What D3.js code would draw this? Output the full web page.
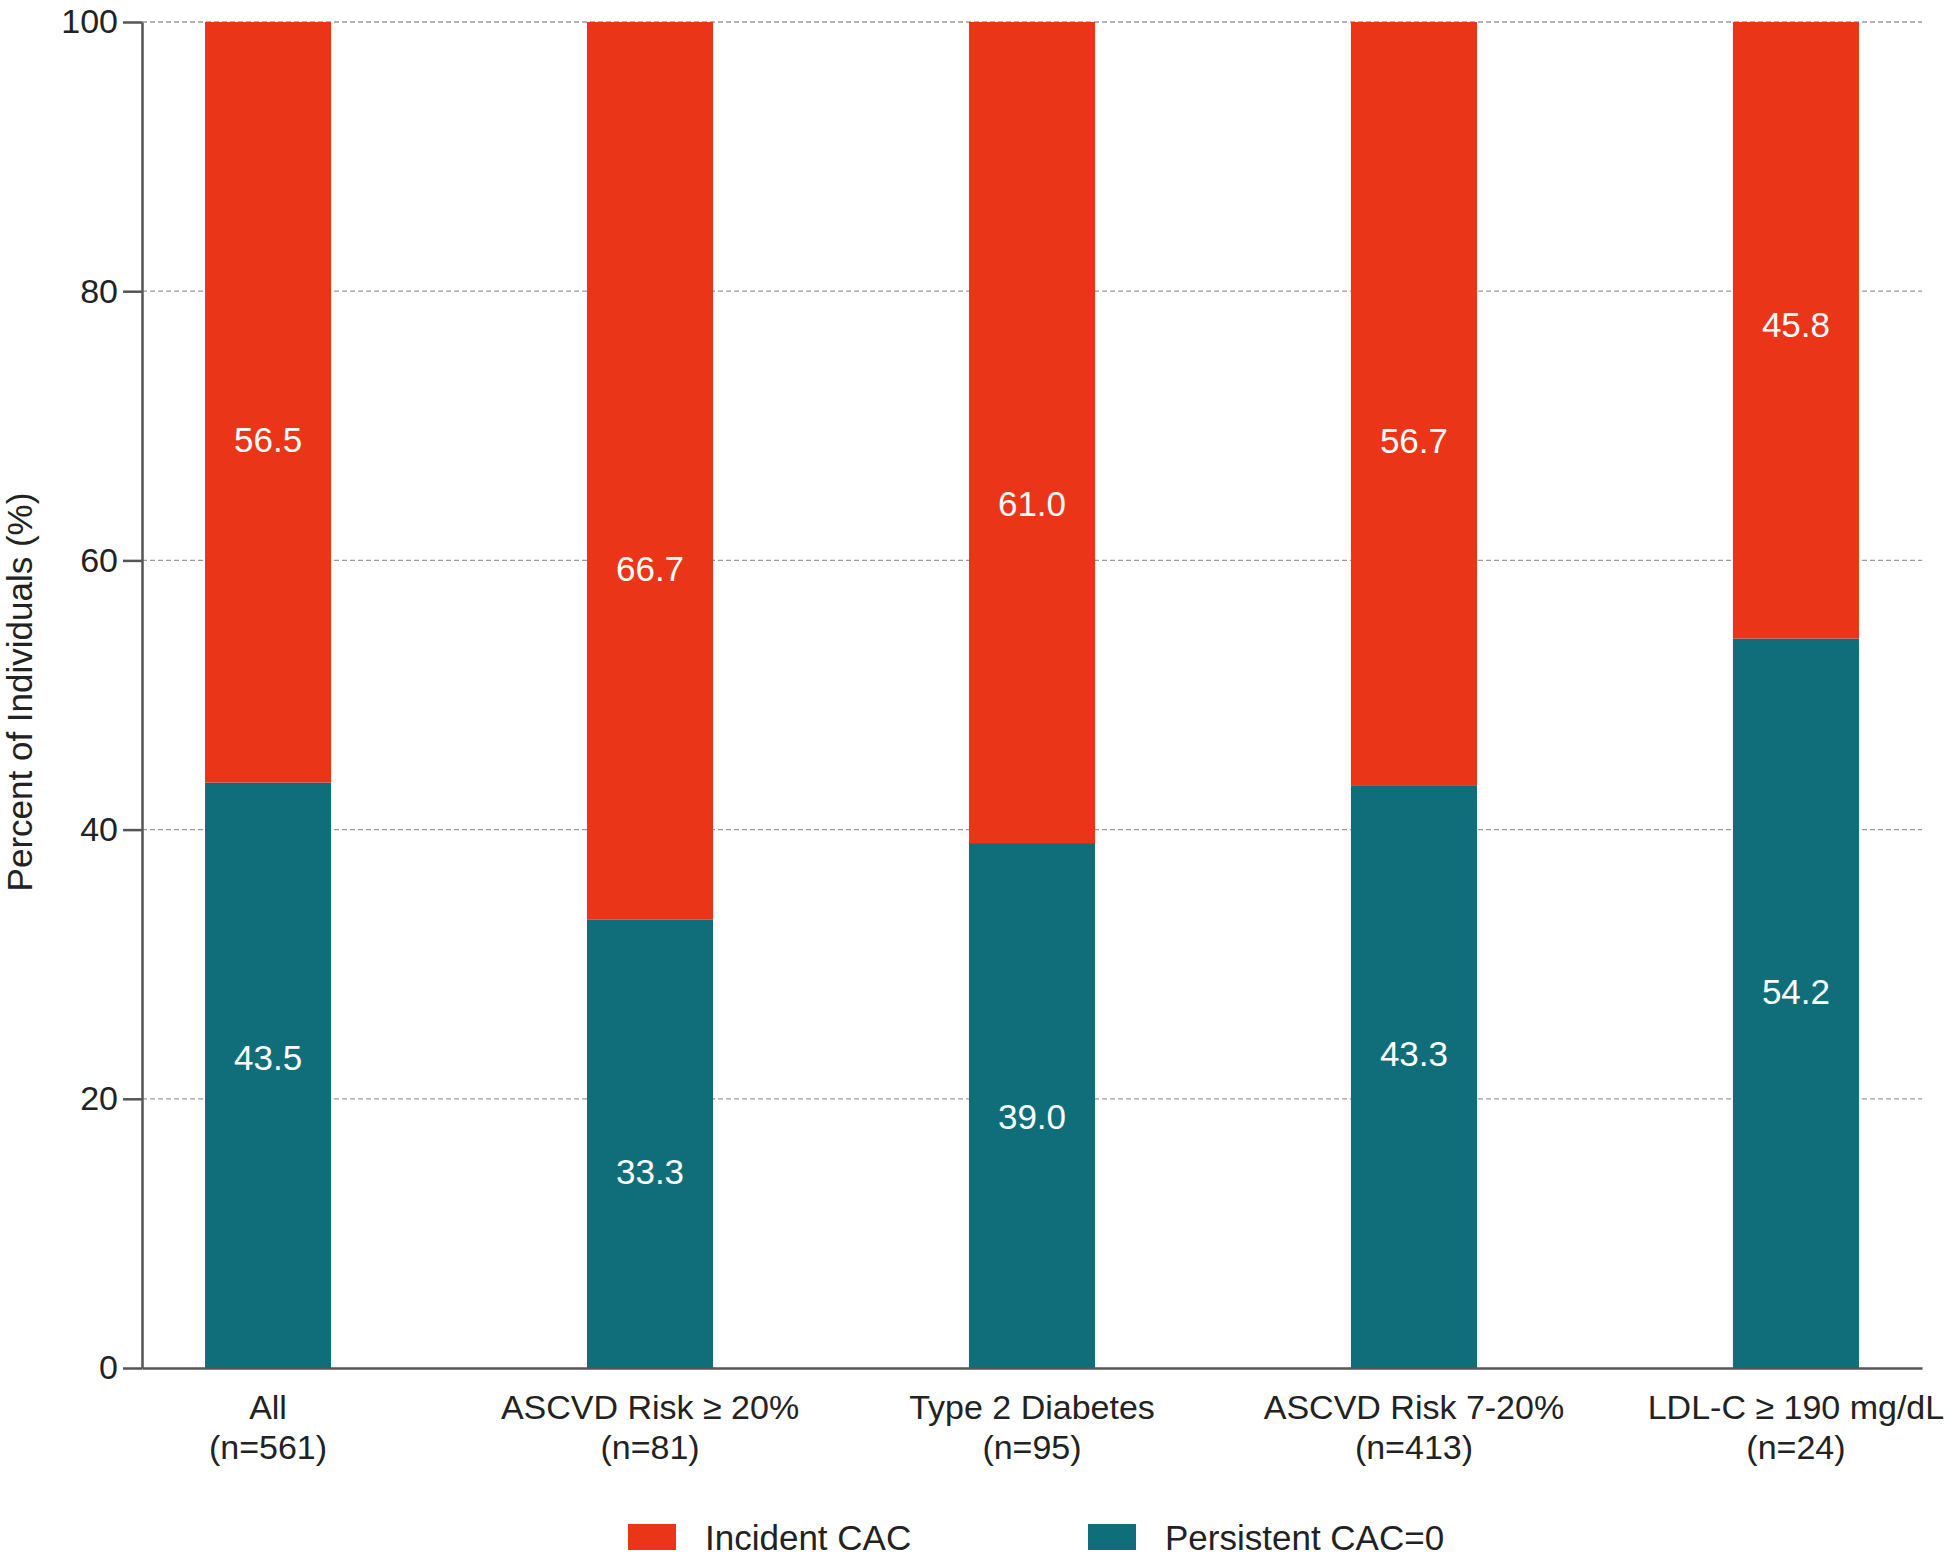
<!DOCTYPE html>
<html>
<head>
<meta charset="utf-8">
<script src="https://cdn.jsdelivr.net/npm/d3@7"></script>
<style>
  html, body { margin: 0; padding: 0; background: #ffffff; }
  svg { display: block; font-family: "Liberation Sans", Arial, Helvetica, sans-serif; }
</style>
</head>
<body>
<svg id="chart" width="1950" height="1557"></svg>
<script>
// ---- data ----
const categories = ["All", "ASCVD Risk \u2265 20%", "Type 2 Diabetes", "ASCVD Risk 7-20%", "LDL-C \u2265 190 mg/dL"];
const sampleSizes = ["(n=561)", "(n=81)", "(n=95)", "(n=413)", "(n=24)"];
const persistent = [43.5, 33.3, 39.0, 43.3, 54.2];   // Persistent CAC=0
const incident   = [56.5, 66.7, 61.0, 56.7, 45.8];   // Incident CAC
// value-label anchors (in % units), as placed in the original figure
const persistentLabelAt = [23.1, 14.6, 18.7, 23.4, 28.0];
const incidentLabelAt   = [69.0, 59.4, 64.2, 68.9, 77.5];
const yTicks = [0, 20, 40, 60, 80, 100];
const seriesNames = ["Incident CAC", "Persistent CAC=0"];

// ---- styles ----
const RED = "#eb3519";
const TEAL = "#106e7a";
const AXIS = "#555555";
const FONT = 35;

const svg = d3.select("#chart");

const x = d3.scaleBand()
  .domain(categories)
  .range([142, 1922])
  .paddingInner(0.67)
  .paddingOuter(0.165);

const y = d3.scaleLinear().domain([0, 100]).range([1368, 22]);

// gridlines
svg.append("g")
  .selectAll("line")
  .data(yTicks.filter(d => d > 0))
  .join("line")
  .attr("x1", 142).attr("x2", 1922)
  .attr("y1", d => y(d)).attr("y2", d => y(d))
  .attr("stroke", "#9a9a9a")
  .attr("stroke-width", 1.3)
  .attr("stroke-dasharray", "5,3");

// bars
const rows = categories.map((c, i) => ({
  cat: c, p: persistent[i], inc: incident[i],
  pl: persistentLabelAt[i], il: incidentLabelAt[i]
}));

const g = svg.append("g");
g.selectAll("rect.persist")
  .data(rows).join("rect")
  .attr("class", "persist")
  .attr("x", d => x(d.cat))
  .attr("width", x.bandwidth())
  .attr("y", d => y(d.p))
  .attr("height", d => y(0) - y(d.p))
  .attr("fill", TEAL);

g.selectAll("rect.incid")
  .data(rows).join("rect")
  .attr("class", "incid")
  .attr("x", d => x(d.cat))
  .attr("width", x.bandwidth())
  .attr("y", d => y(d.p + d.inc))
  .attr("height", d => y(d.p) - y(d.p + d.inc))
  .attr("fill", RED);

// value labels
g.selectAll("text.pl")
  .data(rows).join("text")
  .attr("class", "pl")
  .attr("x", d => x(d.cat) + x.bandwidth() / 2)
  .attr("y", d => y(d.pl))
  .attr("dy", "0.36em")
  .attr("text-anchor", "middle")
  .attr("fill", "#ffffff")
  .attr("font-size", FONT)
  .text(d => d.p.toFixed(1));

g.selectAll("text.il")
  .data(rows).join("text")
  .attr("class", "il")
  .attr("x", d => x(d.cat) + x.bandwidth() / 2)
  .attr("y", d => y(d.il))
  .attr("dy", "0.36em")
  .attr("text-anchor", "middle")
  .attr("fill", "#ffffff")
  .attr("font-size", FONT)
  .text(d => d.inc.toFixed(1));

// y axis
const yAxis = svg.append("g")
  .attr("transform", "translate(142,0)")
  .call(d3.axisLeft(y).tickValues(yTicks).tickSize(19).tickPadding(5).tickSizeOuter(0));
yAxis.select(".domain").attr("stroke", AXIS).attr("stroke-width", 2.5);
yAxis.selectAll(".tick line").attr("stroke", AXIS).attr("stroke-width", 2.5);
yAxis.selectAll(".tick text")
  .attr("fill", "#222")
  .attr("font-size", 34)
  .attr("font-family", "Liberation Sans, Arial, sans-serif");

// x axis
const xAxis = svg.append("g")
  .attr("transform", `translate(0,${y(0)})`)
  .call(d3.axisBottom(x).tickSize(0).tickSizeOuter(0).tickFormat(""));
xAxis.select(".domain").attr("stroke", AXIS).attr("stroke-width", 2.5);

// category labels (two lines)
const cl = svg.append("g").selectAll("text")
  .data(categories).join("text")
  .attr("text-anchor", "middle")
  .attr("fill", "#222")
  .attr("font-size", 34);
cl.append("tspan")
  .attr("x", d => x(d) + x.bandwidth() / 2)
  .attr("y", 1419)
  .text(d => d);
cl.append("tspan")
  .attr("x", d => x(d) + x.bandwidth() / 2)
  .attr("y", 1459)
  .text((d, i) => sampleSizes[i]);

// y title
svg.append("text")
  .attr("transform", "translate(32,692) rotate(-90)")
  .attr("text-anchor", "middle")
  .attr("fill", "#222")
  .attr("font-size", 35)
  .text("Percent of Individuals (%)");

// legend
const legendX = [628, 1088];
const legendColors = [RED, TEAL];
const lg = svg.append("g").selectAll("g")
  .data(seriesNames).join("g")
  .attr("transform", (d, i) => `translate(${legendX[i]},1524)`);
lg.append("rect")
  .attr("width", 48).attr("height", 26)
  .attr("fill", (d, i) => legendColors[i]);
lg.append("text")
  .attr("x", 77).attr("y", 26)
  .attr("fill", "#222")
  .attr("font-size", 35)
  .text(d => d);
</script>
</body>
</html>
